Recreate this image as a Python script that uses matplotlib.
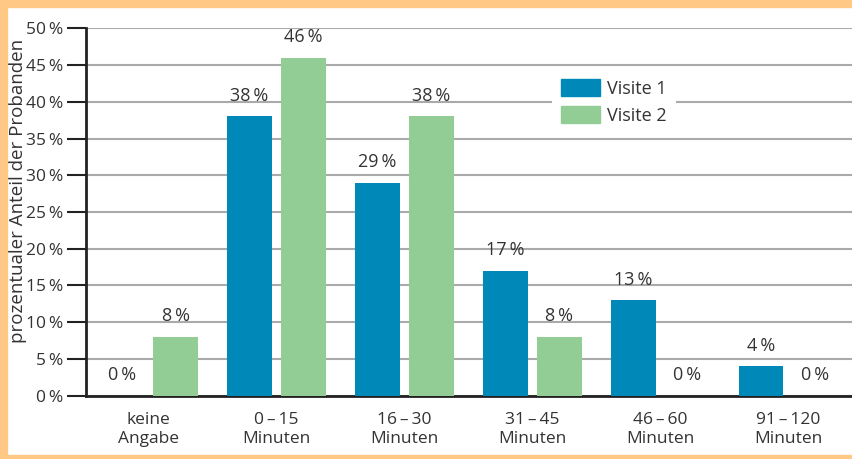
import matplotlib
matplotlib.use('Agg')
import matplotlib.pyplot as plt
from matplotlib.patches import Rectangle, Patch
import numpy as np

plt.rcParams['font.family'] = ['Open Sans', 'DejaVu Sans']

categories = ['keine\nAngabe', '0\u2009–\u200915\nMinuten', '16\u2009–\u200930\nMinuten',
              '31\u2009–\u200945\nMinuten', '46\u2009–\u200960\nMinuten', '91\u2009–\u2009120\nMinuten']
visite1 = [0, 38, 29, 17, 13, 4]
visite2 = [8, 46, 38, 8, 0, 0]
yticks = [0, 5, 10, 15, 20, 25, 30, 35, 40, 45, 50]

blue = '#0088B8'
green = '#91CD95'
txt = '#333333'

fig = plt.figure(figsize=(8.52, 4.59), dpi=100)
ax = fig.add_axes([0.1009, 0.1379, 0.8991, 0.8004])

x = np.arange(len(categories))
off = 0.211
w = 0.35
ax.bar(x - off, visite1, w, color=blue, zorder=3)
ax.bar(x + off, visite2, w, color=green, zorder=3)

for xi, v in zip(x, visite1):
    ax.text(xi - off, v + 2.8, f'{v}\u2009%', ha='center', va='center', fontsize=13, color=txt)
for xi, v in zip(x, visite2):
    ax.text(xi + off, v + 2.8, f'{v}\u2009%', ha='center', va='center', fontsize=13, color=txt)

ax.set_ylim(0, 50)
ax.set_xlim(-0.49, 5.5)
ax.set_yticks(yticks)
ax.set_yticklabels([f'{t}\u2009%' for t in yticks], fontsize=12.5, color=txt)
ax.set_xticks(x)
ax.set_xticklabels(categories, fontsize=12.5, color=txt, linespacing=1.2)
ax.tick_params(axis='x', length=0, pad=12)
ax.tick_params(axis='y', length=14, width=1.5, color='#222222', pad=2)
ax.yaxis.grid(True, color='#aaaaaa', linewidth=1.5, zorder=0)
ax.set_axisbelow(True)
for s in ['top', 'right']:
    ax.spines[s].set_visible(False)
for s in ['left', 'bottom']:
    ax.spines[s].set_linewidth(2)
    ax.spines[s].set_color('#222222')

fig.text(0.021, 0.585, 'prozentualer Anteil der Probanden', rotation=90,
         ha='center', va='center', fontsize=13.5, color=txt)

handles = [Patch(color=blue, label='Visite 1'), Patch(color=green, label='Visite 2')]
leg = ax.legend(handles=handles, loc='upper left', bbox_to_anchor=(0.596, 0.911),
                frameon=True, fontsize=13, handlelength=2.17, handleheight=1.1,
                handletextpad=0.4, borderpad=0.5, labelspacing=0.44)
leg.get_frame().set_edgecolor('none')
leg.get_frame().set_facecolor('white')
leg.get_frame().set_alpha(1)
leg.get_frame().set_boxstyle('square', pad=0)
for t in leg.get_texts():
    t.set_color(txt)

# orange frame
border = '#FFC985'
fig.patches.append(Rectangle((0, 0), 7 / 852, 1, transform=fig.transFigure, color=border, zorder=10))
fig.patches.append(Rectangle((0, 1 - 7 / 459), 1, 7 / 459, transform=fig.transFigure, color=border, zorder=10))
fig.patches.append(Rectangle((0, 0), 1, 4 / 459, transform=fig.transFigure, color=border, zorder=10))

fig.savefig('out.png', dpi=100)
